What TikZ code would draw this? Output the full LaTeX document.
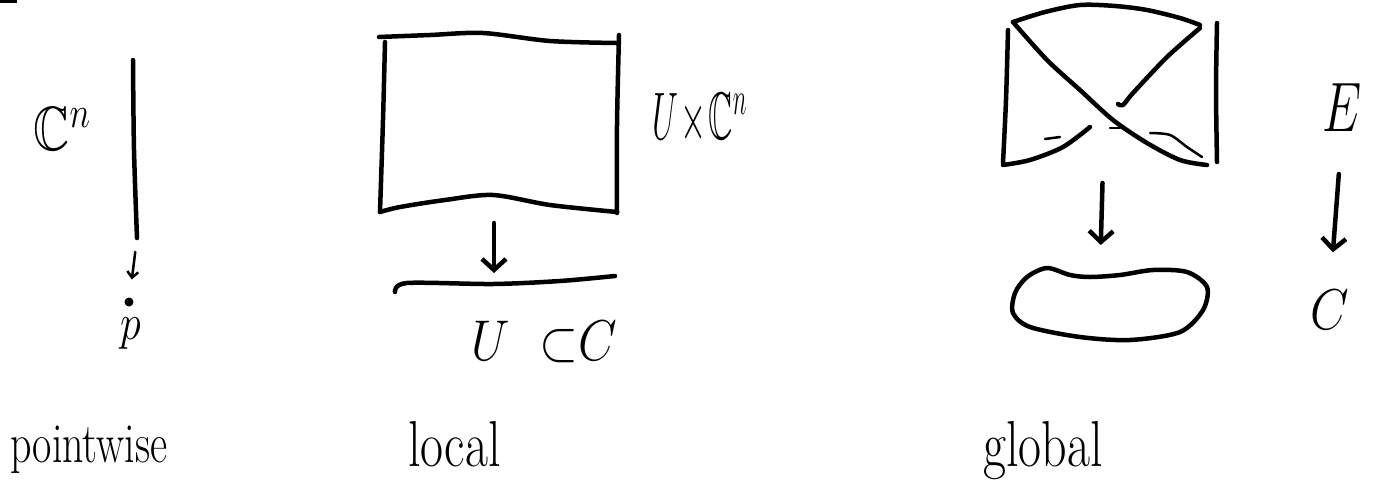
\RequirePackage{fix-cm}
\documentclass[tikz,border=0pt]{standalone}
\usepackage{amssymb}
\usetikzlibrary{arrows.meta}

\newcommand{\tallbox}[3]{\scalebox{#1}[#2]{#3}}

\begin{document}
\begin{tikzpicture}[
  sketch/.style    = {line width=4.5pt, line cap=round, line join=round},
  thinsketch/.style= {line width=2.5pt, line cap=round},
  barb/.style      = {-{Straight Barb[length=11pt, width=24pt]}, line width=4.5pt, line cap=round},
  smallbarb/.style = {-{Straight Barb[length=6pt, width=11pt]}, line width=2.5pt, line cap=round},
  lbl/.style       = {inner sep=0pt, font=\fontsize{42}{48}\selectfont},
  mlbl/.style      = {inner sep=0pt, font=\fontsize{50}{56}\selectfont},
  x=1pt, y=-1pt,
]
  \useasboundingbox (0,0) rectangle (1378,491);
  \fill (0,0) rectangle (17,3);

  % pointwise
  \coordinate (fibretop) at (133,60);
  \coordinate (fibrebot) at (137,238);
  \draw[sketch] plot[smooth] coordinates {(fibretop) (134,150) (fibrebot)};
  \node[circle, fill, inner sep=0pt, minimum size=9pt] (pt) at (129,302) {};
  \draw[smallbarb, shorten <=14pt, shorten >=18pt] (fibrebot) -- (pt);
  \node[mlbl] (fibre) at (62,129) {\tallbox{1}{1.25}{$\mathbb{C}^n$}};
  \node[lbl] (ptname) at (131,334) {\tallbox{1}{1.2}{$p$}};
  \node[lbl, anchor=base west] (pointwise) at (10,462) {\tallbox{1}{1.35}{pointwise}};

  % local
  \draw[sketch] plot[smooth] coordinates {(379,37) (430,35) (483,33) (550,41) (617,43)};
  \draw[sketch] plot[smooth] coordinates {(385,42) (383,120) (380,212)};
  \draw[sketch] plot[smooth] coordinates {(619,35) (617,125) (617,213)};
  \draw[sketch] plot[smooth] coordinates {(380,212) (400,207) (445,200) (493,195) (550,205) (617,212)};
  \coordinate (boxbot) at (494,200);
  \coordinate (basemid) at (494,284);
  \draw[sketch] plot[smooth] coordinates {(395,292) (407,283) (493,284) (560,281) (615,276)};
  \draw[barb, shorten <=23pt, shorten >=11pt] (boxbot) -- (basemid);
  \node[lbl] (prod) at (700,119) {\tallbox{0.8}{1.6}{$U\!\times\!\mathbb{C}^n$}};
  \node[mlbl] (open) at (544,342) {\tallbox{1}{1.15}{$U\hspace{30pt}{\subset}\hspace{0pt}C$}};
  \node[mlbl, anchor=base west] (local) at (408,466) {\tallbox{1}{1.3}{local}};

  % global
  \draw[sketch] plot[smooth] coordinates {(1013,22) (1045,12) (1080,5) (1115,6) (1147,10) (1180,18) (1200,25)};
  \draw[sketch] plot[smooth] coordinates {(1008,30) (1006,100) (1003,163)};
  \draw[sketch] plot[smooth] coordinates {(1217,23) (1216,90) (1217,162)};
  \draw[sketch] plot[smooth] coordinates {(1013,22) (1047,60) (1080,90) (1113,120) (1147,143) (1180,160) (1207,165)};
  \draw[sketch] plot[smooth] coordinates {(1200,28) (1167,57) (1133,93) (1123,105) (1118,104)};
  \draw[sketch] plot[smooth] coordinates {(1090,127) (1063,147) (1030,160) (1003,165)};
  \draw[thinsketch] (1045,139) -- (1060,137);
  \draw[thinsketch] (1110,128) -- (1120,128);
  \draw[thinsketch] plot[smooth] coordinates {(1150,133) (1170,135) (1187,147) (1202,157)};
  \coordinate (bundlebot) at (1103,165);
  \coordinate (blobtop) at (1100,273);
  \draw[sketch] plot[smooth cycle] coordinates {(1015,293) (1027,277) (1047,268) (1070,275)
    (1090,277) (1120,275) (1153,270) (1187,272) (1207,287) (1203,310) (1180,332)
    (1130,340) (1080,337) (1030,327) (1013,313)};
  \draw[barb, shorten <=18pt, shorten >=28pt] (bundlebot) -- (blobtop);
  \node[mlbl] (total) at (1342,108) {\tallbox{1}{1.4}{$E$}};
  \node[mlbl] (curve) at (1330,310) {\tallbox{1}{1.15}{$C$}};
  \draw[barb, shorten <=42pt, shorten >=38pt] (total.south) -- (curve.north);
  \node[mlbl, anchor=base west] (global) at (983,466) {\tallbox{1}{1.3}{global}};
\end{tikzpicture}
\end{document}
